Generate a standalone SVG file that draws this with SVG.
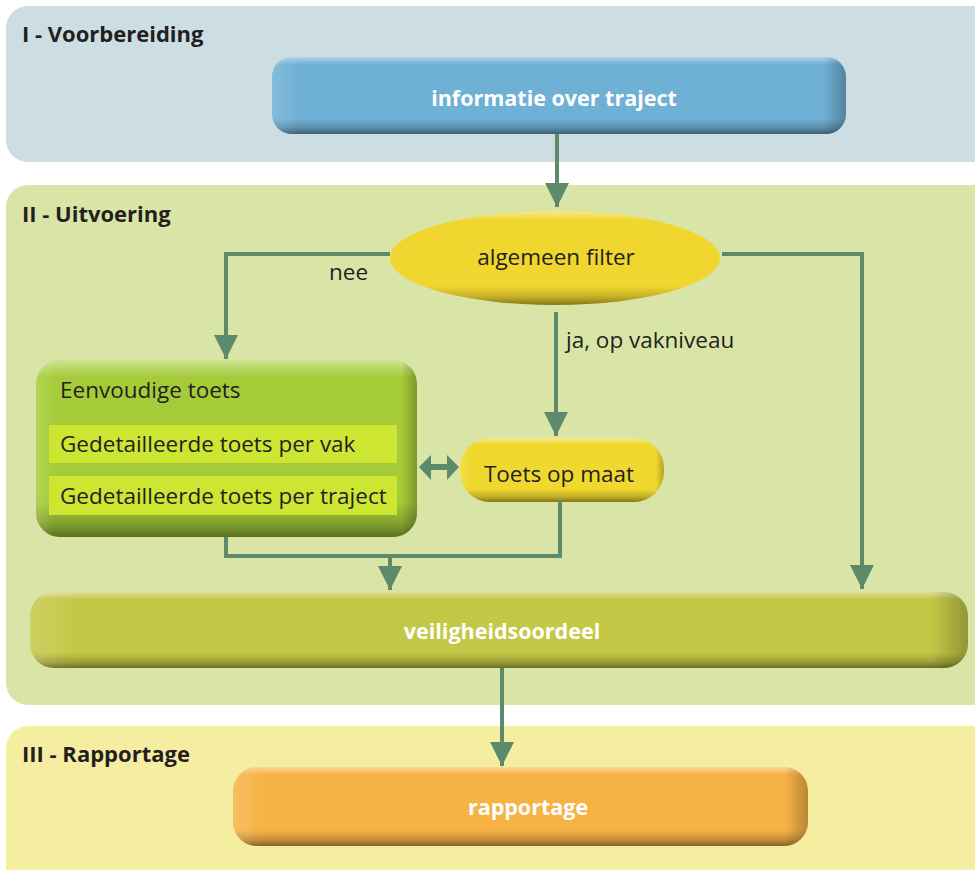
<svg xmlns="http://www.w3.org/2000/svg" width="975" height="870" viewBox="0 0 975 870">
<defs>
<style>
.title{font-family:"Open Sans","Liberation Sans",sans-serif;font-weight:bold;font-size:22px;fill:#231f20}
.wt{font-family:"Open Sans","Liberation Sans",sans-serif;font-weight:bold;font-size:21.5px;fill:#ffffff;text-anchor:middle}
.dt{font-family:"Open Sans","Liberation Sans",sans-serif;font-size:22.5px;fill:#231f20}
.conn{fill:none;stroke:#5e8a6c;stroke-width:4}
</style>
<linearGradient id="bevel" x1="0" y1="0" x2="0" y2="1">
<stop offset="0" stop-color="#ffffff" stop-opacity="0.45"/>
<stop offset="0.1" stop-color="#ffffff" stop-opacity="0"/>
<stop offset="0.8" stop-color="#000000" stop-opacity="0"/>
<stop offset="0.92" stop-color="#000000" stop-opacity="0.2"/>
<stop offset="1" stop-color="#000000" stop-opacity="0.45"/>
</linearGradient>
<linearGradient id="bevelS" x1="0" y1="0" x2="1" y2="0">
<stop offset="0" stop-color="#ffffff" stop-opacity="0.15"/>
<stop offset="0.05" stop-color="#ffffff" stop-opacity="0"/>
<stop offset="0.96" stop-color="#000000" stop-opacity="0"/>
<stop offset="1" stop-color="#000000" stop-opacity="0.25"/>
</linearGradient>
<marker id="ah" viewBox="0 0 10 10" refX="10" refY="5" markerWidth="6" markerHeight="6" markerUnits="strokeWidth" orient="auto">
<path d="M0,0 L10,5 L0,10 z" fill="#5e8a6c"/>
</marker>
</defs>

<g id="panels">
<rect x="6" y="6" width="990" height="156" rx="22" fill="#ccdde3"/>
<rect x="6" y="185" width="990" height="520" rx="22" fill="#d9e5a6"/>
<rect x="6" y="726" width="990" height="170" rx="22" fill="#f5eea0"/>
<text class="title" x="22" y="42">I - Voorbereiding</text>
<text class="title" x="22" y="222">II - Uitvoering</text>
<text class="title" x="22" y="762">III - Rapportage</text>
</g>

<g id="connectors">
<path class="conn" d="M557,134 V207" marker-end="url(#ah)"/>
<path class="conn" d="M390,254 H226 V359" marker-end="url(#ah)"/>
<path class="conn" d="M722,254 H862 V589" marker-end="url(#ah)"/>
<path class="conn" d="M556,312 V436" marker-end="url(#ah)"/>
<path class="conn" d="M226,537 V556 H560 V502"/>
<path class="conn" d="M390,556 V590" marker-end="url(#ah)"/>
<path class="conn" d="M502,668 V766" marker-end="url(#ah)"/>
<path d="M419,467 L431,455 V464 H447 V455 L459,467 L447,480 V470 H431 V480 z" fill="#5e8a6c"/>
<text class="dt" x="329" y="280">nee</text>
<text class="dt" x="566" y="348">ja, op vakniveau</text>
</g>

<g id="info">
<rect x="272" y="57" width="574" height="77" rx="20" fill="#6fb0d5"/>
<rect x="272" y="57" width="574" height="77" rx="20" fill="url(#bevel)"/>
<rect x="272" y="57" width="574" height="77" rx="20" fill="url(#bevelS)"/>
<text class="wt" x="554" y="106">informatie over traject</text>
</g>

<g id="filter">
<ellipse cx="555" cy="258" rx="165" ry="47" fill="#f1d62f"/>
<ellipse cx="555" cy="258" rx="165" ry="47" fill="url(#bevel)"/>
<text class="dt" x="556" y="265" text-anchor="middle">algemeen filter</text>
</g>

<g id="toetsen">
<rect x="36" y="360" width="381" height="177" rx="24" fill="#a5cb39"/>
<rect x="36" y="360" width="381" height="177" rx="24" fill="url(#bevel)"/>
<rect x="36" y="360" width="381" height="177" rx="24" fill="url(#bevelS)"/>
<rect x="49" y="425" width="348" height="38" fill="#cce632"/>
<rect x="49" y="476" width="348" height="39" fill="#cce632"/>
<text class="dt" x="60" y="398">Eenvoudige toets</text>
<text class="dt" x="60" y="452">Gedetailleerde toets per vak</text>
<text class="dt" x="60" y="504">Gedetailleerde toets per traject</text>
</g>

<g id="maat">
<rect x="460" y="438" width="204" height="64" rx="30" fill="#f1d82f"/>
<rect x="460" y="438" width="204" height="64" rx="30" fill="url(#bevel)"/>
<rect x="460" y="438" width="204" height="64" rx="30" fill="url(#bevelS)"/>
<text class="dt" x="559" y="482" text-anchor="middle">Toets op maat</text>
</g>

<g id="oordeel">
<rect x="30" y="592" width="938" height="76" rx="24" fill="#c3c846"/>
<rect x="30" y="592" width="938" height="76" rx="24" fill="url(#bevel)"/>
<rect x="30" y="592" width="938" height="76" rx="24" fill="url(#bevelS)"/>
<text class="wt" x="502" y="639">veiligheidsoordeel</text>
</g>

<g id="rapport">
<rect x="233" y="767" width="575" height="79" rx="24" fill="#f7b246"/>
<rect x="233" y="767" width="575" height="79" rx="24" fill="url(#bevel)"/>
<rect x="233" y="767" width="575" height="79" rx="24" fill="url(#bevelS)"/>
<text class="wt" x="528" y="815">rapportage</text>
</g>
</svg>
